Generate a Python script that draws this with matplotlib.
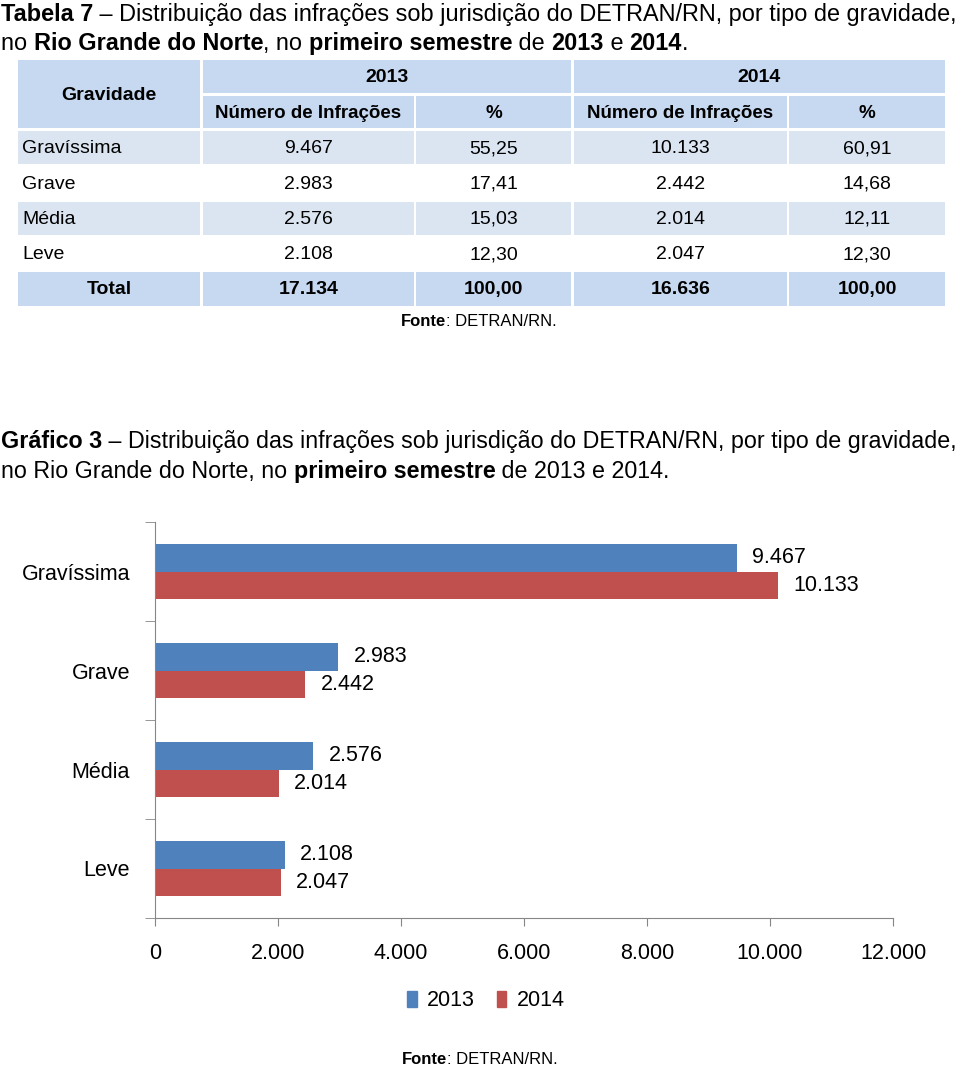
import numpy as np
import matplotlib
matplotlib.use('Agg')
import matplotlib.pyplot as plt
from matplotlib import font_manager
from matplotlib.font_manager import FontProperties
from matplotlib.patches import Rectangle, Patch

W, H = 960, 1070

categories = ['Gravíssima', 'Grave', 'Média', 'Leve']
infr_2013 = [9467, 2983, 2576, 2108]
infr_2014 = [10133, 2442, 2014, 2047]
pct_2013 = ['55,25', '17,41', '15,03', '12,30']
pct_2014 = ['60,91', '14,68', '12,11', '12,30']
total_2013 = 17134
total_2014 = 16636
total_pct = '100,00'
years = ['2013', '2014']
xticks = [0, 2000, 4000, 6000, 8000, 10000, 12000]

BLUE = '#4f81bd'
RED = '#c0504d'
HEAD = '#c6d9f1'
BAND = '#dbe5f1'
GRAY = '#868686'

names = {f.name for f in font_manager.fontManager.ttflist}
FONT = 'Liberation Sans Narrow' if 'Liberation Sans Narrow' in names else 'Liberation Sans'
plt.rcParams['font.family'] = [FONT, 'DejaVu Sans']


def br(v):
    return f'{v:,}'.replace(',', '.')


def fx(x):
    return x / W


def fy(y):
    return 1 - y / H


fig = plt.figure(figsize=(W / 100, H / 100), dpi=100)
renderer = fig.canvas.get_renderer()


def text_w(s, size, bold):
    fp = FontProperties(family=FONT, size=size, weight='bold' if bold else 'normal')
    w1 = renderer.get_text_width_height_descent('x' + s + 'x', fp, ismath=False)[0]
    w0 = renderer.get_text_width_height_descent('xx', fp, ismath=False)[0]
    return w1 - w0


def runs_width(parts, size):
    return sum(text_w(s, size, b) for s, b in parts)


def fit_size(parts, target, base=16):
    return base * target / runs_width(parts, base)


def draw_runs(parts, x, y, size, ha='left'):
    total = runs_width(parts, size)
    if ha == 'center':
        x = x - total / 2
    for s, b in parts:
        fig.text(fx(x), fy(y), s, fontsize=size, fontweight='bold' if b else 'normal',
                 ha='left', va='baseline')
        x += text_w(s, size, b)


# ---- titles
line1 = [('Tabela 7', True), (' – Distribuição das infrações sob jurisdição do DETRAN/RN, por tipo de gravidade,', False)]
line2 = [('no ', False), ('Rio Grande do Norte', True), (', no ', False), ('primeiro semestre', True),
         (' de ', False), ('2013', True), (' e ', False), ('2014', True), ('.', False)]
tsize = fit_size(line1, 954)
draw_runs(line1, 1, 21, tsize)
draw_runs(line2, 1, 50, tsize)

gline1 = [('Gráfico 3', True), (' – Distribuição das infrações sob jurisdição do DETRAN/RN, por tipo de gravidade,', False)]
gline2 = [('no Rio Grande do Norte, no ', False), ('primeiro semestre', True), (' de 2013 e 2014.', False)]
gsize = fit_size(gline1, 954)
draw_runs(gline1, 1, 448, gsize)
draw_runs(gline2, 1, 478, gsize)

# ---- table
cols = [(18, 200), (203, 414), (416, 571), (574, 787), (789, 945)]
TS = 14


def cell(x0, x1, y0, y1, color, txt=None, bold=False, ha='center', size=TS):
    if color:
        fig.patches.append(Rectangle((fx(x0), fy(y1)), fx(x1) - fx(x0), fy(y0) - fy(y1),
                                     transform=fig.transFigure, facecolor=color, edgecolor='none'))
    if txt is not None:
        tx = (x0 + x1) / 2 if ha == 'center' else x0 + 4
        fig.text(fx(tx), fy((y0 + y1) / 2 + 1), txt, fontsize=size, ha=ha, va='center',
                 fontweight='bold' if bold else 'normal')


cell(cols[0][0], cols[0][1], 60, 128, HEAD, 'Gravidade', True)
cell(cols[1][0], cols[2][1], 60, 93, HEAD, years[0], True)
cell(cols[3][0], cols[4][1], 60, 93, HEAD, years[1], True)
for i, lab in enumerate(['Número de Infrações', '%', 'Número de Infrações', '%']):
    cell(cols[i + 1][0], cols[i + 1][1], 96, 128, HEAD, lab, True, size=13.5)

row_y = [(131, 164), (167, 199), (202, 235), (237, 270)]
for r, cat in enumerate(categories):
    y0, y1 = row_y[r]
    color = BAND if r % 2 == 0 else None
    vals = [br(infr_2013[r]), pct_2013[r], br(infr_2014[r]), pct_2014[r]]
    cell(cols[0][0], cols[0][1], y0, y1, color, cat, ha='left')
    for c, v in enumerate(vals):
        cell(cols[c + 1][0], cols[c + 1][1], y0, y1, color, v)

tot = ['Total', br(total_2013), total_pct, br(total_2014), total_pct]
for c, v in enumerate(tot):
    cell(cols[c][0], cols[c][1], 272, 306, HEAD, v, True)

draw_runs([('Fonte', True), (': DETRAN/RN.', False)], 479, 326, 12, ha='center')

# ---- bar chart
ax = fig.add_axes([fx(155), fy(918), fx(893) - fx(155), fy(522) - fy(918)])
y = np.arange(len(categories))
h = 0.28
b1 = ax.barh(y - h / 2, infr_2013, height=h, color=BLUE, label=years[0])
b2 = ax.barh(y + h / 2, infr_2014, height=h, color=RED, label=years[1])
for bars, vals in ((b1, infr_2013), (b2, infr_2014)):
    for bar, v in zip(bars, vals):
        ax.annotate(br(v), (v, bar.get_y() + bar.get_height() / 2), xytext=(11, 0),
                    textcoords='offset points', ha='left', va='center', fontsize=15.5)

ax.set_xlim(0, 12000)
ax.set_ylim(len(categories) - 0.5, -0.5)
ax.set_xticks(xticks)
ax.set_xticklabels([br(t) for t in xticks])
ax.set_yticks(y)
ax.set_yticklabels(categories)
ax.set_yticks(np.arange(-0.5, len(categories)), minor=True)
ax.tick_params(axis='y', which='major', length=0, pad=18, labelsize=15.5)
ax.tick_params(axis='y', which='minor', length=7, color=GRAY, direction='out')
ax.tick_params(axis='x', length=6, color=GRAY, direction='out', pad=12, labelsize=15.5)
for s in ('top', 'right'):
    ax.spines[s].set_visible(False)
for s in ('left', 'bottom'):
    ax.spines[s].set_color(GRAY)

fig.legend(handles=[Patch(color=BLUE), Patch(color=RED)], labels=years, loc='center',
           bbox_to_anchor=(fx(486), fy(1001)), ncol=2, frameon=False, fontsize=15.5,
           handlelength=0.45, handleheight=0.7, handletextpad=0.5, columnspacing=1.0)

draw_runs([('Fonte', True), (': DETRAN/RN.', False)], 480, 1064, 12, ha='center')

fig.savefig('out.png', dpi=100)
